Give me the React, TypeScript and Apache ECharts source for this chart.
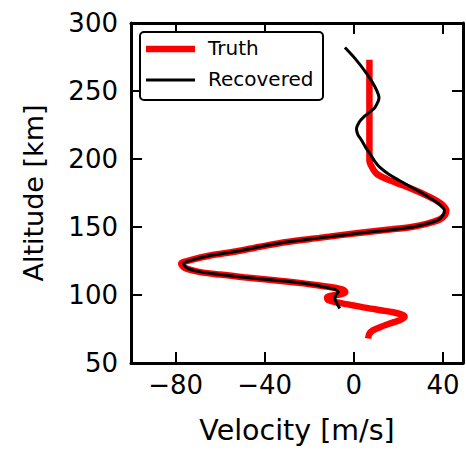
import React, { useEffect, useRef } from "react";
import * as echarts from "echarts";

// [velocity m/s, altitude km]
const truthVelocity = [7, 7, 7, 7, 7.5, 10, 15, 22, 27.5, 32.5, 37, 40, 41.5, 41, 38.5, 33, 26.5, 17, 7, -5, -15.5, -30, -42, -53, -64.5, -72.5, -77.5, -76, -69.5, -60, -49.5, -38, -27, -18, -10, -5, -3.8, -5.5, -9.5, -12, -11.5, -7.5, 0, 5.7, 12, 17.6, 21.5, 22.8, 20.5, 16.1, 12, 8.6, 7, 6.4];
const truthAltitude = [273, 240, 210, 199, 196, 189.5, 185, 180.7, 177, 173.3, 169.5, 166, 162.3, 159, 155.5, 152.5, 150.2, 148.3, 146.5, 144.2, 142, 139, 135.5, 132, 129, 126, 123, 120, 117, 115, 113, 111.2, 109.4, 107.6, 105.7, 104, 102.2, 100.6, 99.6, 98.3, 96.2, 94.6, 92.3, 90.5, 88.8, 87.3, 85.6, 83.8, 81.5, 79, 76.5, 74, 71.5, 68];

const recoveredVelocity = [-4, 0.5, 5.7, 9.5, 11.3, 9.5, 7.2, 4.5, 2.4, 1.2, 1.8, 3.4, 5.5, 7.2, 9.5, 11.6, 15.5, 20.6, 25, 29.5, 34, 37, 39.5, 40.7, 40, 37.7, 32, 26.5, 17, 7.2, -5, -15.2, -30, -42, -53, -64.4, -72, -76.4, -75, -68.9, -60, -49.5, -38, -27.2, -18, -12, -8.5, -7, -8, -8.5, -7.5, -6.3];
const recoveredAltitude = [282, 274, 263, 253, 245, 238, 234.6, 231, 227, 222, 218, 214, 208, 204, 198, 194, 189, 184, 180, 176, 171.5, 168.4, 165, 162.3, 158.5, 155, 152, 150, 148, 146.3, 144, 142, 139, 135.5, 132, 129, 126, 123, 120, 117, 115, 113, 111.2, 109.6, 107.5, 105.5, 104.2, 102.2, 100, 97.3, 93.5, 90];

const xTicks = [-80, -40, 0, 40];
const xMin = -100;
const xMax = 49;
const yMin = 50;
const yMax = 300;

const FONT = "DejaVu Sans";

export default function App() {
  const ref = useRef<HTMLDivElement>(null);
  useEffect(() => {
    if (!ref.current) return;
    const chart = echarts.init(ref.current, null, { renderer: "svg" });
    const truth = truthVelocity.map((v, i) => [v, truthAltitude[i]]);
    const recovered = recoveredVelocity.map((v, i) => [v, recoveredAltitude[i]]);
    const fmt = (v: number) => String(v).replace("-", "\u2212");
    const axisLine = { show: true, onZero: false, lineStyle: { color: "#000", width: 3 } };
    const tick = { show: true, inside: true, length: 11, lineStyle: { color: "#000", width: 2 } };
    chart.setOption({
      animation: false,
      backgroundColor: "#fff",
      grid: { left: 131, right: 3, top: 23, bottom: 89, containLabel: false },
      xAxis: [
        {
          type: "value",
          position: "bottom",
          min: xMin,
          max: xMax,
          axisLine,
          axisTick: { ...tick, customValues: xTicks },
          axisLabel: { customValues: xTicks, formatter: fmt, color: "#000", fontFamily: FONT, fontSize: 26, margin: 9 },
          splitLine: { show: false },
          name: "Velocity [m/s]",
          nameLocation: "middle",
          nameGap: 53,
          nameTextStyle: { color: "#000", fontFamily: FONT, fontSize: 28.5 },
        },
        {
          type: "value",
          position: "top",
          min: xMin,
          max: xMax,
          axisLine,
          axisTick: { ...tick, customValues: xTicks },
          axisLabel: { show: false, customValues: xTicks },
          splitLine: { show: false },
        },
      ],
      yAxis: [
        {
          type: "value",
          position: "left",
          min: yMin,
          max: yMax,
          interval: 50,
          axisLine,
          axisTick: tick,
          axisLabel: { color: "#000", fontFamily: FONT, fontSize: 26, margin: 13 },
          splitLine: { show: false },
          name: "Altitude [km]",
          nameLocation: "middle",
          nameGap: 84,
          nameTextStyle: { color: "#000", fontFamily: FONT, fontSize: 27 },
        },
        {
          type: "value",
          position: "right",
          min: yMin,
          max: yMax,
          interval: 50,
          axisLine,
          axisTick: tick,
          axisLabel: { show: false },
          splitLine: { show: false },
        },
      ],
      series: [
        {
          name: "Truth",
          type: "line",
          data: truth,
          showSymbol: false,
          smooth: 0.3,
          lineStyle: { color: "#ff0000", width: 6.5 },
          z: 2,
        },
        {
          name: "Recovered",
          type: "line",
          data: recovered,
          showSymbol: false,
          smooth: 0.3,
          lineStyle: { color: "#000", width: 3 },
          z: 3,
        },
      ],
      graphic: [
        {
          type: "rect",
          shape: { x: 140, y: 32, width: 183, height: 68, r: 4 },
          style: { fill: "#fff", stroke: "#000", lineWidth: 2 },
          z: 100,
        },
        {
          type: "line",
          shape: { x1: 146, y1: 49, x2: 195, y2: 49 },
          style: { stroke: "#ff0000", lineWidth: 6.5 },
          z: 101,
        },
        {
          type: "line",
          shape: { x1: 146, y1: 80, x2: 195, y2: 80 },
          style: { stroke: "#000", lineWidth: 3 },
          z: 101,
        },
        {
          type: "text",
          x: 208,
          y: 48,
          style: { text: "Truth", fill: "#000", font: `20px '${FONT}'`, verticalAlign: "middle" },
          z: 101,
        },
        {
          type: "text",
          x: 208,
          y: 79,
          style: { text: "Recovered", fill: "#000", font: `20px '${FONT}'`, verticalAlign: "middle" },
          z: 101,
        },
      ],
    });
    return () => chart.dispose();
  }, []);
  return <div ref={ref} style={{ position: "fixed", left: 0, top: 0, width: 466, height: 452 }} />;
}
